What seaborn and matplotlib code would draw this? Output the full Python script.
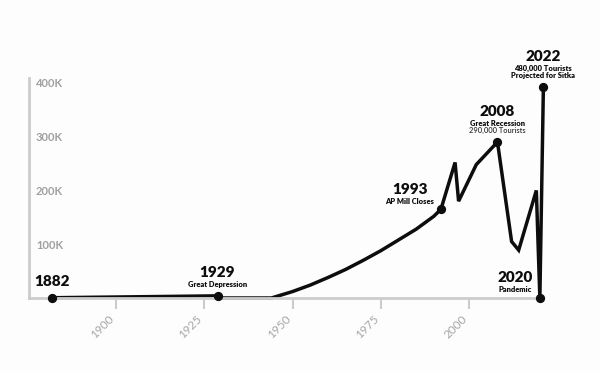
import matplotlib
matplotlib.use("Agg")
import matplotlib.pyplot as plt
import seaborn as sns
import pandas as pd

# ---- data (values in thousands of visitors) ----
years = [1882, 1929, 1930, 1944, 1950, 1955, 1960, 1965, 1970, 1975, 1980,
         1985, 1990, 1992, 1996, 1997, 2002, 2008, 2012, 2014, 2019, 2020, 2021]
visitors_k = [0.5, 4, 0, 0, 12, 24, 38, 53, 70, 88, 108,
              128, 152, 165, 252, 180, 248, 290, 105, 89, 200, 0, 393]

event_years = [1882, 1929, 1992, 2008, 2020, 2021]
event_values_k = [0.5, 4, 165, 290, 0, 393]
event_titles = ["1882", "1929", "1993", "2008", "2020", "2022"]
event_subtitles = [[], ["Great Depression"], ["AP Mill Closes"],
                   ["Great Recession", "290,000 Tourists"], ["Pandemic"],
                   ["480,000 Tourists", "Projected for Sitka"]]

x_ticks = [1900, 1925, 1950, 1975, 2000]
y_ticks_k = [100, 200, 300, 400]
y_tick_labels = ["100K", "200K", "300K", "400K"]

df = pd.DataFrame({"year": years, "visitors": [v * 1000 for v in visitors_k]})

sns.set_theme(style="white")
plt.rcParams["font.family"] = ["Lato", "DejaVu Sans"]

bg = "#fdfdfd"
fig = plt.figure(figsize=(6, 3.73), dpi=100, facecolor=bg)
ax = fig.add_axes([29 / 600, (373 - 298) / 373, 531 / 600, 220 / 373])
ax.set_facecolor(bg)

sns.lineplot(data=df, x="year", y="visitors", ax=ax, color="#0d0d0d",
             linewidth=2.5, estimator=None, sort=True)
ax.lines[0].set_clip_on(False)
ax.lines[0].set_solid_joinstyle("miter")

ax.scatter(event_years, [v * 1000 for v in event_values_k], s=32,
           color="#0d0d0d", zorder=5, clip_on=False)

ax.set_xlim(1875.4, 2025.7)
ax.set_ylim(0, 409000)

for s in ["top", "right"]:
    ax.spines[s].set_visible(False)
for s in ["left", "bottom"]:
    ax.spines[s].set_color("#cccccc")
    ax.spines[s].set_linewidth(2)
ax.spines["bottom"].set_bounds(1875.4, 2020)

ax.set_xticks(x_ticks)
ax.set_xticklabels([str(t) for t in x_ticks], rotation=45, ha="right",
                   va="top", rotation_mode="default")
ax.tick_params(axis="x", length=8, width=1.5, color="#cccccc",
               labelcolor="#a6a6a6", labelsize=8.5, pad=3, bottom=True)

ax.set_yticks([v * 1000 for v in y_ticks_k])
ax.set_yticklabels(y_tick_labels)
ax.tick_params(axis="y", length=0, pad=-5, labelcolor="#a0a0a0", labelsize=8)
for lab in ax.get_yticklabels():
    lab.set_horizontalalignment("left")
    lab.set_fontweight("bold")

ax.set_xlabel("")
ax.set_ylabel("")

# annotation offsets in pixels (dx, title dy, subtitle dys)
offsets = {
    "1882": (0, 16, []),
    "1929": (-1, 23, [11]),
    "1993": (-31, 20, [8]),
    "2008": (0, 31, [18.7, 11.3]),
    "2020": (-25, 21, [9]),
    "2022": (-0.5, 30, [18, 11]),
}
for yr, val, title, subs in zip(event_years, event_values_k, event_titles, event_subtitles):
    dx, dy, sdys = offsets[title]
    ax.annotate(title, xy=(yr, val * 1000), xytext=(dx, dy),
                textcoords="offset pixels", ha="center", va="center",
                fontsize=11, fontweight="heavy", color="#0d0d0d",
                annotation_clip=False)
    for i, (sub, sdy) in enumerate(zip(subs, sdys)):
        light = (title == "2008" and i == 1)
        ax.annotate(sub, xy=(yr, val * 1000), xytext=(dx, sdy),
                    textcoords="offset pixels", ha="center", va="center",
                    fontsize=5.4, fontweight="semibold" if light else "heavy",
                    color="#333333" if light else "#0d0d0d",
                    annotation_clip=False)

fig.savefig("out.png", dpi=100, facecolor=bg)
